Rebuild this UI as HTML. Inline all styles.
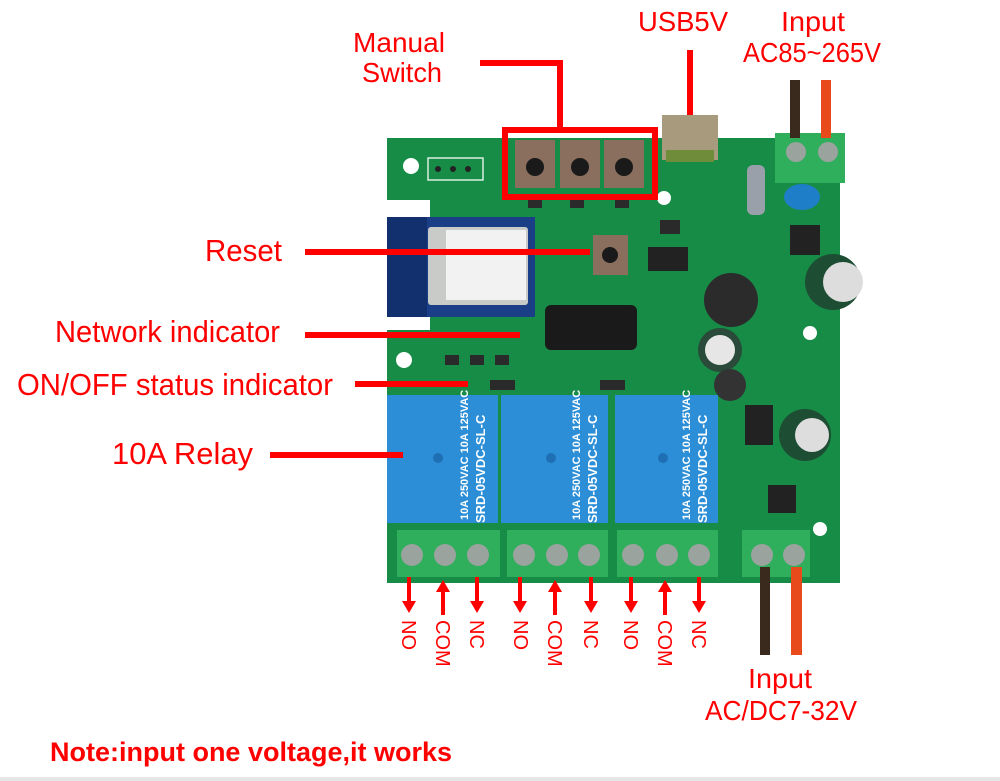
<!DOCTYPE html>
<html><head><meta charset="utf-8"><style>
html,body{margin:0;padding:0;background:#fff;width:1000px;height:781px;overflow:hidden}
svg{display:block}
text{font-family:"Liberation Sans",sans-serif}
</style></head><body>
<svg width="1000" height="781" viewBox="0 0 1000 781">
<rect x="0" y="777" width="1000" height="4" fill="#e6e6e6"/>
<!-- PCB -->
<path d="M387 138 H840 V583 H387 Z" fill="#168c46"/>
<rect x="387" y="200" width="43" height="130" fill="#fff"/>
<!-- wifi module -->
<rect x="387" y="217" width="148" height="100" fill="#1b3f86"/>
<rect x="387" y="217" width="40" height="100" fill="#13306e"/>
<rect x="428" y="227" width="100" height="78" fill="#c9cbc8" rx="3"/>
<rect x="446" y="230" width="80" height="70" fill="#f2f2f2"/>
<!-- holes -->
<circle cx="411" cy="166" r="8" fill="#fff"/>
<circle cx="404" cy="360" r="8" fill="#fff"/>
<circle cx="664" cy="198" r="7" fill="#fff"/>
<circle cx="810" cy="333" r="7" fill="#fff"/>
<circle cx="820" cy="529" r="7" fill="#fff"/>
<rect x="428" y="158" width="55" height="22" fill="none" stroke="#d8efe0" stroke-width="1.5"/>
<circle cx="438" cy="169" r="3" fill="#222"/><circle cx="453" cy="169" r="3" fill="#222"/><circle cx="468" cy="169" r="3" fill="#222"/>
<!-- small smd -->
<g fill="#2a2a2a">
<rect x="445" y="355" width="14" height="10"/><rect x="470" y="355" width="14" height="10"/><rect x="495" y="355" width="14" height="10"/>
<rect x="490" y="380" width="25" height="10"/><rect x="600" y="380" width="25" height="10"/><rect x="660" y="220" width="20" height="14"/>
<rect x="528" y="198" width="14" height="10"/><rect x="570" y="198" width="14" height="10"/><rect x="615" y="198" width="14" height="10"/>
</g>
<!-- buttons -->
<g fill="#8a6e5e"><rect x="515" y="140" width="40" height="48"/><rect x="560" y="140" width="40" height="48"/><rect x="604" y="140" width="40" height="48"/><rect x="593" y="235" width="35" height="40"/></g>
<g fill="#1a1a1a"><circle cx="535" cy="167" r="9"/><circle cx="580" cy="167" r="9"/><circle cx="624" cy="167" r="9"/><circle cx="610" cy="255" r="8"/></g>
<!-- usb -->
<rect x="662" y="115" width="56" height="45" fill="#a89a7c"/>
<rect x="666" y="150" width="48" height="12" fill="#6f8c3a"/>
<!-- top terminal -->
<rect x="775" y="133" width="70" height="50" fill="#2fae5c"/>
<circle cx="796" cy="152" r="10" fill="#9aa39e"/><circle cx="828" cy="152" r="10" fill="#9aa39e"/>
<rect x="790" y="80" width="10" height="58" fill="#3a2a1e"/>
<rect x="821" y="80" width="10" height="58" fill="#e84a1c"/>
<!-- parts -->
<rect x="747" y="165" width="18" height="50" fill="#9aa0aa" rx="6"/>
<ellipse cx="802" cy="197" rx="18" ry="13" fill="#1e7fc8"/>
<rect x="790" y="225" width="30" height="30" fill="#222"/>
<circle cx="833" cy="282" r="28" fill="#1d4d33"/><circle cx="843" cy="282" r="20" fill="#ddd"/>
<circle cx="731" cy="300" r="27" fill="#2b2b2b"/>
<circle cx="720" cy="350" r="22" fill="#2a4a3a"/><circle cx="720" cy="350" r="15" fill="#e6e6e6"/>
<circle cx="730" cy="385" r="16" fill="#333"/>
<circle cx="805" cy="435" r="26" fill="#1d4d33"/><circle cx="812" cy="435" r="17" fill="#ddd"/>
<rect x="745" y="405" width="28" height="40" fill="#222"/>
<rect x="768" y="485" width="28" height="28" fill="#222"/>
<rect x="648" y="247" width="40" height="24" fill="#222"/>
<rect x="545" y="305" width="92" height="45" fill="#1a1a1a" rx="6"/>
<!-- relays -->
<g fill="#2b8ed6"><rect x="387" y="395" width="111" height="128"/><rect x="501" y="395" width="107" height="128"/><rect x="615" y="395" width="103" height="128"/></g>
<g fill="#1e6fb4"><circle cx="438" cy="458" r="5"/><circle cx="551" cy="458" r="5"/><circle cx="663" cy="458" r="5"/></g>
<g fill="#fff" font-size="13" font-weight="bold">
<text transform="translate(485,523) rotate(-90)">SRD-05VDC-SL-C</text>
<text transform="translate(597,523) rotate(-90)">SRD-05VDC-SL-C</text>
<text transform="translate(707,523) rotate(-90)">SRD-05VDC-SL-C</text>
<text transform="translate(468,520) rotate(-90)" font-size="11">10A 250VAC 10A 125VAC</text>
<text transform="translate(580,520) rotate(-90)" font-size="11">10A 250VAC 10A 125VAC</text>
<text transform="translate(690,520) rotate(-90)" font-size="11">10A 250VAC 10A 125VAC</text></g>
<!-- bottom terminals -->
<g fill="#2fae5c"><rect x="397" y="530" width="103" height="47"/><rect x="507" y="530" width="101" height="47"/><rect x="617" y="530" width="101" height="47"/><rect x="742" y="530" width="68" height="47"/></g>
<g fill="#9aa39e">
<circle cx="412" cy="555" r="11"/><circle cx="445" cy="555" r="11"/><circle cx="478" cy="555" r="11"/>
<circle cx="524" cy="555" r="11"/><circle cx="557" cy="555" r="11"/><circle cx="589" cy="555" r="11"/>
<circle cx="633" cy="555" r="11"/><circle cx="667" cy="555" r="11"/><circle cx="699" cy="555" r="11"/>
<circle cx="762" cy="555" r="11"/><circle cx="794" cy="555" r="11"/></g>
<rect x="760" y="567" width="10" height="88" fill="#3a2a1e"/>
<rect x="791" y="567" width="11" height="88" fill="#e84a1c"/>
<!-- red callouts -->
<g fill="#f00" stroke="none">
<rect x="505" y="130" width="150" height="67" fill="none" stroke="#f00" stroke-width="6"/>
<rect x="557" y="60" width="6" height="72"/><rect x="480" y="60" width="83" height="6"/>
<rect x="687" y="50" width="6" height="65"/>
<rect x="305" y="249" width="285" height="6"/>
<rect x="305" y="332" width="215" height="6"/>
<rect x="355" y="381" width="113" height="6"/>
<rect x="270" y="452" width="133" height="6"/>
</g>
<!-- arrows -->
<g fill="#f00">
<g id="dn"><rect x="407" y="577" width="4" height="26"/><path d="M402 601 h14 l-7 12z"/></g>
<rect x="441" y="590" width="4" height="25"/><path d="M436 592 h14 l-7 -12z"/>
<use href="#dn" x="68"/><use href="#dn" x="111"/><use href="#dn" x="182"/><use href="#dn" x="222"/><use href="#dn" x="290"/>
<rect x="553" y="590" width="4" height="25"/><path d="M548 592 h14 l-7 -12z"/>
<rect x="663" y="590" width="4" height="25"/><path d="M658 592 h14 l-7 -12z"/>
</g>
<g fill="#f00" font-size="20">
<text transform="translate(402,620) rotate(90)">NO</text>
<text transform="translate(436,620) rotate(90)">COM</text>
<text transform="translate(470,620) rotate(90)">NC</text>
<text transform="translate(514,620) rotate(90)">NO</text>
<text transform="translate(548,620) rotate(90)">COM</text>
<text transform="translate(584,620) rotate(90)">NC</text>
<text transform="translate(624,620) rotate(90)">NO</text>
<text transform="translate(658,620) rotate(90)">COM</text>
<text transform="translate(692,620) rotate(90)">NC</text>
</g>
<g fill="#f00" font-size="28" lengthAdjust="spacingAndGlyphs">
<text x="353" y="52" textLength="92" lengthAdjust="spacingAndGlyphs">Manual</text>
<text x="362" y="82" textLength="80" lengthAdjust="spacingAndGlyphs">Switch</text>
<text x="638" y="31" textLength="90" lengthAdjust="spacingAndGlyphs">USB5V</text>
<text x="781" y="31" textLength="64" lengthAdjust="spacingAndGlyphs">Input</text>
<text x="743" y="62" textLength="138" lengthAdjust="spacingAndGlyphs">AC85~265V</text>
<text x="748" y="688" textLength="64" lengthAdjust="spacingAndGlyphs">Input</text>
<text x="705" y="720" textLength="152" lengthAdjust="spacingAndGlyphs">AC/DC7-32V</text>
<text x="205" y="261" font-size="31" textLength="77" lengthAdjust="spacingAndGlyphs">Reset</text>
<text x="55" y="342" font-size="31" textLength="225" lengthAdjust="spacingAndGlyphs">Network indicator</text>
<text x="17" y="395" font-size="31" textLength="316" lengthAdjust="spacingAndGlyphs">ON/OFF status indicator</text>
<text x="112" y="464" font-size="31" textLength="141" lengthAdjust="spacingAndGlyphs">10A  Relay</text>
<text x="50" y="761" font-size="27" font-weight="bold" textLength="402" lengthAdjust="spacingAndGlyphs">Note:input one voltage,it works</text>
</g>
</svg>
</body></html>
